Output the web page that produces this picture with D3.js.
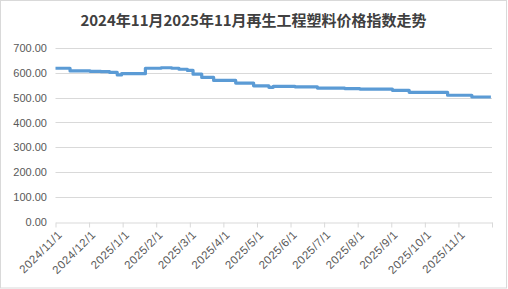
<!DOCTYPE html>
<html>
<head>
<meta charset="utf-8">
<script src="https://cdn.jsdelivr.net/npm/d3@7"></script>
<style>
  html, body { margin: 0; padding: 0; background: #fff; }
  svg { display: block; }
</style>
</head>
<body>
<div id="chart"></div>
<script>
const title = "2024年11月2025年11月再生工程塑料价格指数走势";

// Change points of the index (date, value) — the series holds each value until the next date
const dates = [
  "2024-11-01","2024-11-14","2024-12-02","2024-12-12","2024-12-20","2024-12-27","2024-12-31",
  "2025-01-22","2025-02-05","2025-02-14","2025-02-20","2025-02-27","2025-03-04","2025-03-12",
  "2025-03-23","2025-04-12","2025-04-28","2025-05-12","2025-05-16","2025-06-05","2025-06-25",
  "2025-07-20","2025-08-03","2025-09-02","2025-09-17","2025-10-22","2025-11-13","2025-11-30"
];
const values = [
  620, 609, 607, 606, 603, 593, 598,
  620, 622, 620, 616, 611, 596, 583,
  571, 560, 549, 543, 547, 545, 540,
  538, 536, 531, 523, 511, 504, 504
];

// Axis ticks (month starts) and their labels
const monthTicks = [
  "2024-11-01","2024-12-01","2025-01-01","2025-02-01","2025-03-01","2025-04-01","2025-05-01",
  "2025-06-01","2025-07-01","2025-08-01","2025-09-01","2025-10-01","2025-11-01","2025-12-01"
];
const monthLabels = [
  "2024/11/1","2024/12/1","2025/1/1","2025/2/1","2025/3/1","2025/4/1","2025/5/1",
  "2025/6/1","2025/7/1","2025/8/1","2025/9/1","2025/10/1","2025/11/1",""
];
const yTicks = [0, 100, 200, 300, 400, 500, 600, 700];

const W = 508, H = 289;
const parse = d3.utcParse("%Y-%m-%d");
const data = dates.map((d, i) => ({ date: parse(d), value: values[i] }));
const tickDates = monthTicks.map(parse);

const x0 = 55.5, x1 = 492;
const x = d3.scaleUtc()
  .domain(tickDates)
  .range(tickDates.map((d, i) => x0 + i * (x1 - x0) / (tickDates.length - 1)));
const y = d3.scaleLinear().domain([0, 700]).range([222, 48.4]);

const svg = d3.select("#chart").append("svg")
  .attr("width", W).attr("height", H);

svg.append("rect")
  .attr("x", 0.5).attr("y", 0.5).attr("width", W - 2).attr("height", H - 1.5)
  .attr("fill", "#fff").attr("stroke", "#d9d9d9");

svg.append("text")
  .attr("x", 253.5).attr("y", 25.5)
  .attr("text-anchor", "middle")
  .attr("font-family", "'Noto Sans CJK SC', sans-serif")
  .attr("font-weight", "bold")
  .attr("font-size", "15px")
  .attr("fill", "#404040")
  .text(title);

// gridlines
const snap = v => Math.round(v) + 0.5;
svg.append("g").selectAll("line")
  .data(yTicks.filter(t => t > 0))
  .join("line")
  .attr("x1", x0).attr("x2", x1)
  .attr("y1", d => snap(y(d) - 0.5)).attr("y2", d => snap(y(d) - 0.5))
  .attr("stroke", "#d9d9d9").attr("stroke-width", 1);

// y labels
svg.append("g").selectAll("text")
  .data(yTicks)
  .join("text")
  .attr("x", 47).attr("y", d => y(d))
  .attr("dy", "0.35em")
  .attr("text-anchor", "end")
  .attr("font-family", "'Liberation Sans', Arial, sans-serif")
  .attr("font-size", "11px")
  .attr("fill", "#595959")
  .text(d => d3.format(".2f")(d));

// x axis
const xAxis = d3.axisBottom(x)
  .tickValues(tickDates)
  .tickSize(5)
  .tickSizeOuter(0)
  .tickFormat((d, i) => monthLabels[i]);
const gx = svg.append("g")
  .attr("transform", `translate(0,${snap(y(0) - 0.5)})`)
  .call(xAxis);
gx.select(".domain").attr("stroke", "#d9d9d9");
gx.selectAll(".tick line").attr("stroke", "#d9d9d9");
gx.selectAll(".tick text")
  .attr("font-family", "'Liberation Sans', Arial, sans-serif")
  .attr("font-size", "11.5px")
  .attr("letter-spacing", "0.5px")
  .attr("fill", "#595959")
  .attr("text-anchor", "end")
  .attr("transform", "translate(4,10) rotate(-45)")
  .attr("x", 0).attr("y", 0).attr("dy", "0.35em");

// line
const line = d3.line()
  .x(d => x(d.date))
  .y(d => y(d.value))
  .curve(d3.curveStepAfter);
svg.append("path")
  .datum(data)
  .attr("d", line)
  .attr("fill", "none")
  .attr("stroke", "#5b9bd5")
  .attr("stroke-width", 3.2)
  .attr("stroke-linejoin", "round");
</script>
</body>
</html>
